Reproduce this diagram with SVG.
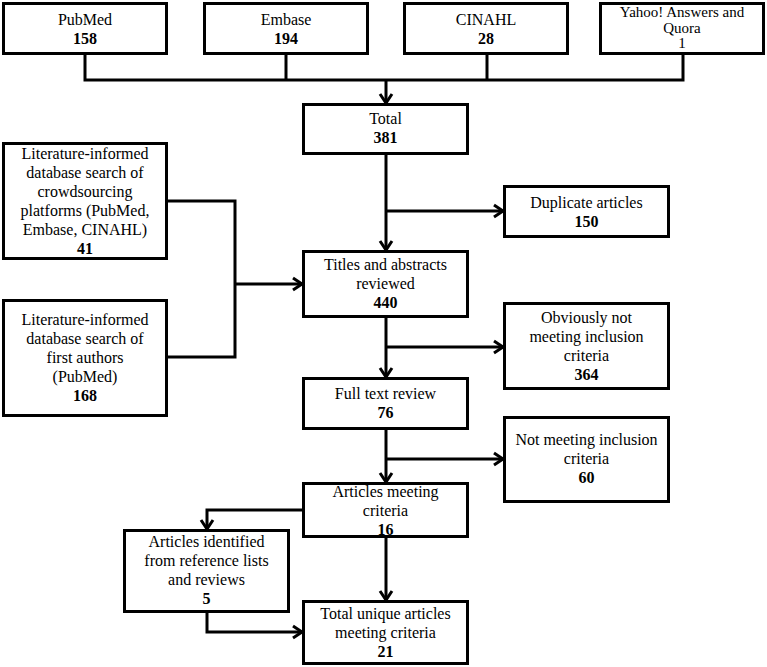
<svg xmlns="http://www.w3.org/2000/svg" width="767" height="667" viewBox="0 0 767 667">
<defs>
<marker id="arr" markerUnits="userSpaceOnUse" markerWidth="16" markerHeight="16" viewBox="0 0 16 16" refX="13" refY="8" orient="auto">
<path d="M4,2 L13,8 L4,14" fill="none" stroke="#000" stroke-width="3" stroke-linejoin="miter"/>
</marker>
<style>
rect{fill:#fff;stroke:#000;stroke-width:3}
text{font-family:'Liberation Serif','DejaVu Serif','Times New Roman',serif;font-size:16px;fill:#000;text-anchor:middle}
.b{font-weight:bold}
.s{font-size:15px}
.c{fill:none;stroke:#000;stroke-width:3}
</style>
</defs>
<rect x="0" y="0" width="767" height="667" style="stroke:none"/>
<g id="connectors">
<path class="c" d="M85,55 V80 H683 V55"/>
<path class="c" d="M286,55 V80"/>
<path class="c" d="M487,55 V80"/>
<path class="c" d="M386,80 V103" marker-end="url(#arr)"/>
<path class="c" d="M386,155 V250" marker-end="url(#arr)"/>
<path class="c" d="M386,211 H503" marker-end="url(#arr)"/>
<path class="c" d="M168,201 H235 V357 H168"/>
<path class="c" d="M235,284 H302" marker-end="url(#arr)"/>
<path class="c" d="M386,318 V377" marker-end="url(#arr)"/>
<path class="c" d="M386,347 H503" marker-end="url(#arr)"/>
<path class="c" d="M386,430 V482" marker-end="url(#arr)"/>
<path class="c" d="M386,459 H503" marker-end="url(#arr)"/>
<path class="c" d="M302,510 H207 V529" marker-end="url(#arr)"/>
<path class="c" d="M386,538 V600" marker-end="url(#arr)"/>
<path class="c" d="M207,613 V632 H302" marker-end="url(#arr)"/>
</g>
<g id="pubmed"><rect x="3.5" y="3.5" width="163" height="50"/><text x="85" y="25">PubMed</text><text class="b" x="85" y="44">158</text></g>
<g id="embase"><rect x="204.5" y="3.5" width="163" height="50"/><text x="286" y="25">Embase</text><text class="b" x="286" y="44">194</text></g>
<g id="cinahl"><rect x="404.5" y="3.5" width="163" height="50"/><text x="486" y="25">CINAHL</text><text class="b" x="486" y="44">28</text></g>
<g id="yahoo"><rect x="600.5" y="3.5" width="163" height="50"/><text class="s" x="682" y="17">Yahoo! Answers and</text><text class="s" x="682" y="32.5">Quora</text><text class="s" x="682" y="48">1</text></g>
<g id="total"><rect x="303.5" y="104.5" width="164" height="49"/><text x="385.5" y="124">Total</text><text class="b" x="385.5" y="143">381</text></g>
<g id="lit1"><rect x="3.5" y="143.5" width="163" height="115"/><text x="85" y="159">Literature-informed</text><text x="85" y="178">database search of</text><text x="85" y="197">crowdsourcing</text><text x="85" y="216">platforms (PubMed,</text><text x="85" y="235">Embase, CINAHL)</text><text class="b" x="85" y="254">41</text></g>
<g id="lit2"><rect x="3.5" y="300.5" width="163" height="115"/><text x="85" y="325">Literature-informed</text><text x="85" y="344">database search of</text><text x="85" y="363">first authors</text><text x="85" y="382">(PubMed)</text><text class="b" x="85" y="401">168</text></g>
<g id="titles"><rect x="303.5" y="251.5" width="164" height="65"/><text x="385.5" y="270">Titles and abstracts</text><text x="385.5" y="289">reviewed</text><text class="b" x="385.5" y="308">440</text></g>
<g id="duplicate"><rect x="504.5" y="186.5" width="164" height="50"/><text x="586.5" y="208">Duplicate articles</text><text class="b" x="586.5" y="227">150</text></g>
<g id="obviously"><rect x="504.5" y="303.5" width="164" height="85"/><text x="586.5" y="323">Obviously not</text><text x="586.5" y="342">meeting inclusion</text><text x="586.5" y="361">criteria</text><text class="b" x="586.5" y="380">364</text></g>
<g id="fulltext"><rect x="303.5" y="378.5" width="164" height="50"/><text x="385.5" y="399">Full text review</text><text class="b" x="385.5" y="418">76</text></g>
<g id="notmeeting"><rect x="504.5" y="417.5" width="164" height="84"/><text x="586.5" y="445">Not meeting inclusion</text><text x="586.5" y="464">criteria</text><text class="b" x="586.5" y="483">60</text></g>
<g id="articles"><rect x="303.5" y="483.5" width="164" height="53"/><text x="385.5" y="497">Articles meeting</text><text x="385.5" y="516">criteria</text><text class="b" x="385.5" y="535">16</text></g>
<g id="identified"><rect x="124.5" y="530.5" width="164" height="81"/><text x="206.5" y="547">Articles identified</text><text x="206.5" y="566">from reference lists</text><text x="206.5" y="585">and reviews</text><text class="b" x="206.5" y="604">5</text></g>
<g id="totalunique"><rect x="303.5" y="601.5" width="164" height="62"/><text x="385.5" y="619">Total unique articles</text><text x="385.5" y="638">meeting criteria</text><text class="b" x="385.5" y="657">21</text></g>
</svg>
